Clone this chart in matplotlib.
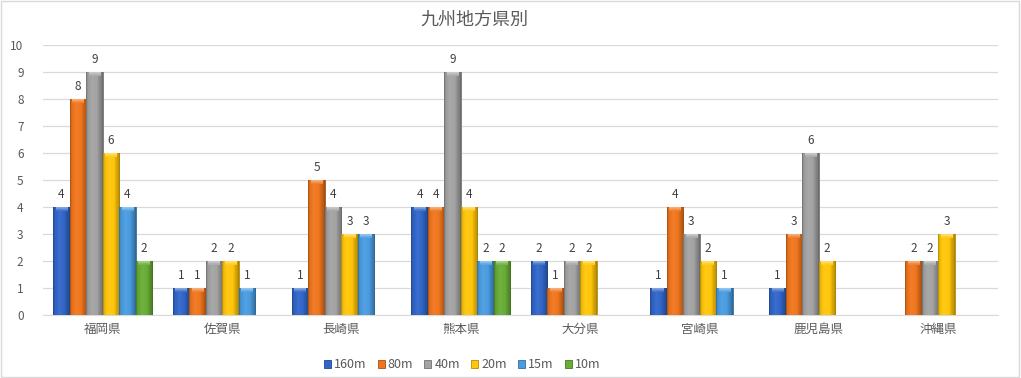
import numpy as np
import matplotlib
matplotlib.use('Agg')
from matplotlib import pyplot as plt
from matplotlib.colors import to_rgb

plt.rcParams['font.family'] = ['Noto Sans CJK JP', 'DejaVu Sans']

# data
prefectures = ['福岡県', '佐賀県', '長崎県', '熊本県', '大分県', '宮崎県', '鹿児島県', '沖縄県']
series_names = ['160m', '80m', '40m', '20m', '15m', '10m']
nan = np.nan
v160 = [4, 1, 1, 4, 2, 1, 1, nan]
v80 = [8, 1, 5, 4, 1, 4, 3, 2]
v40 = [9, 2, 4, 9, 2, 3, 6, 2]
v20 = [6, 2, 3, 4, 2, 2, 2, 3]
v15 = [4, 1, 3, 2, nan, 1, nan, nan]
v10 = [2, nan, nan, 2, nan, nan, nan, nan]
all_values = [v160, v80, v40, v20, v15, v10]
colors = ['#3166C8', '#F0761E', '#A3A3A3', '#FFC60A', '#4A9CE0', '#68AD36']

fig = plt.figure(figsize=(10.21, 3.78), dpi=100)
ax = fig.add_axes([43/1021, 63/378, 955/1021, 270/378])

x = np.arange(len(prefectures))
w = 0.83 / 6

def shade(c, f):
    r = np.array(to_rgb(c))
    if f < 1:
        return r * f
    return r + (1 - r) * (f - 1)

for i, (vals, col) in enumerate(zip(all_values, colors)):
    bars = ax.bar(x + (i - 2.5) * w, vals, w, color=col, label=series_names[i],
                  edgecolor=shade(col, 0.7), linewidth=0.6, zorder=3)
    # bevel look: horizontal gradient inside each bar
    prof = np.concatenate([np.linspace(0.7, 0.95, 3), np.linspace(0.95, 1.05, 6),
                           np.linspace(1.05, 1.0, 6), np.linspace(1.0, 0.8, 6),
                           np.linspace(0.8, 0.65, 3)])
    img = np.array([[shade(col, p) for p in prof]])
    for b, v in zip(bars, vals):
        if np.isnan(v) or v == 0:
            continue
        bx, bw, bh = b.get_x(), b.get_width(), b.get_height()
        ax.imshow(img, extent=[bx, bx + bw, 0, bh], aspect='auto', zorder=3.5,
                  interpolation='bilinear')
        top = np.array([[shade(col, 1.4)], [shade(col, 1.1)]])
        ax.imshow(top, extent=[bx + bw * 0.15, bx + bw * 0.85, bh - 0.14, bh],
                  aspect='auto', zorder=3.6, interpolation='bilinear')
        ax.text(bx + bw / 2, bh + 0.22, f'{int(v)}', ha='center', va='bottom',
                fontsize=8.5, color='#404040', zorder=5)

ax.set_xlim(-0.5, len(prefectures) - 0.5)
ax.set_ylim(0, 10)
ax.set_yticks(range(0, 11))
ax.set_xticks(x)
ax.set_xticklabels(prefectures, fontsize=9, color='#595959')
ax.tick_params(axis='y', labelsize=8.5, labelcolor='#595959', length=0, pad=14)
ax.tick_params(axis='x', length=0, pad=6)
ax.grid(axis='y', color='#D9D9D9', linewidth=0.9, zorder=0)
for s in ['top', 'right', 'left']:
    ax.spines[s].set_visible(False)
ax.spines['bottom'].set_color('#D9D9D9')

fig.text(474/1021, 1 - 20/378, '九州地方県別', ha='center', va='center',
         fontsize=13, color='#595959')

leg = fig.legend(loc='center', bbox_to_anchor=(462/1021, 1 - 365/378), ncol=6,
                 frameon=False, fontsize=9, handlelength=0.55, handleheight=0.55,
                 handletextpad=0.25, columnspacing=0.9)
for t in leg.get_texts():
    t.set_color('#595959')

fig.patches.append(plt.Rectangle((0.001, 0.002), 0.997, 0.995, transform=fig.transFigure,
                                 fill=False, edgecolor='#D9D9D9', linewidth=1))

fig.savefig('out.png', dpi=100)
